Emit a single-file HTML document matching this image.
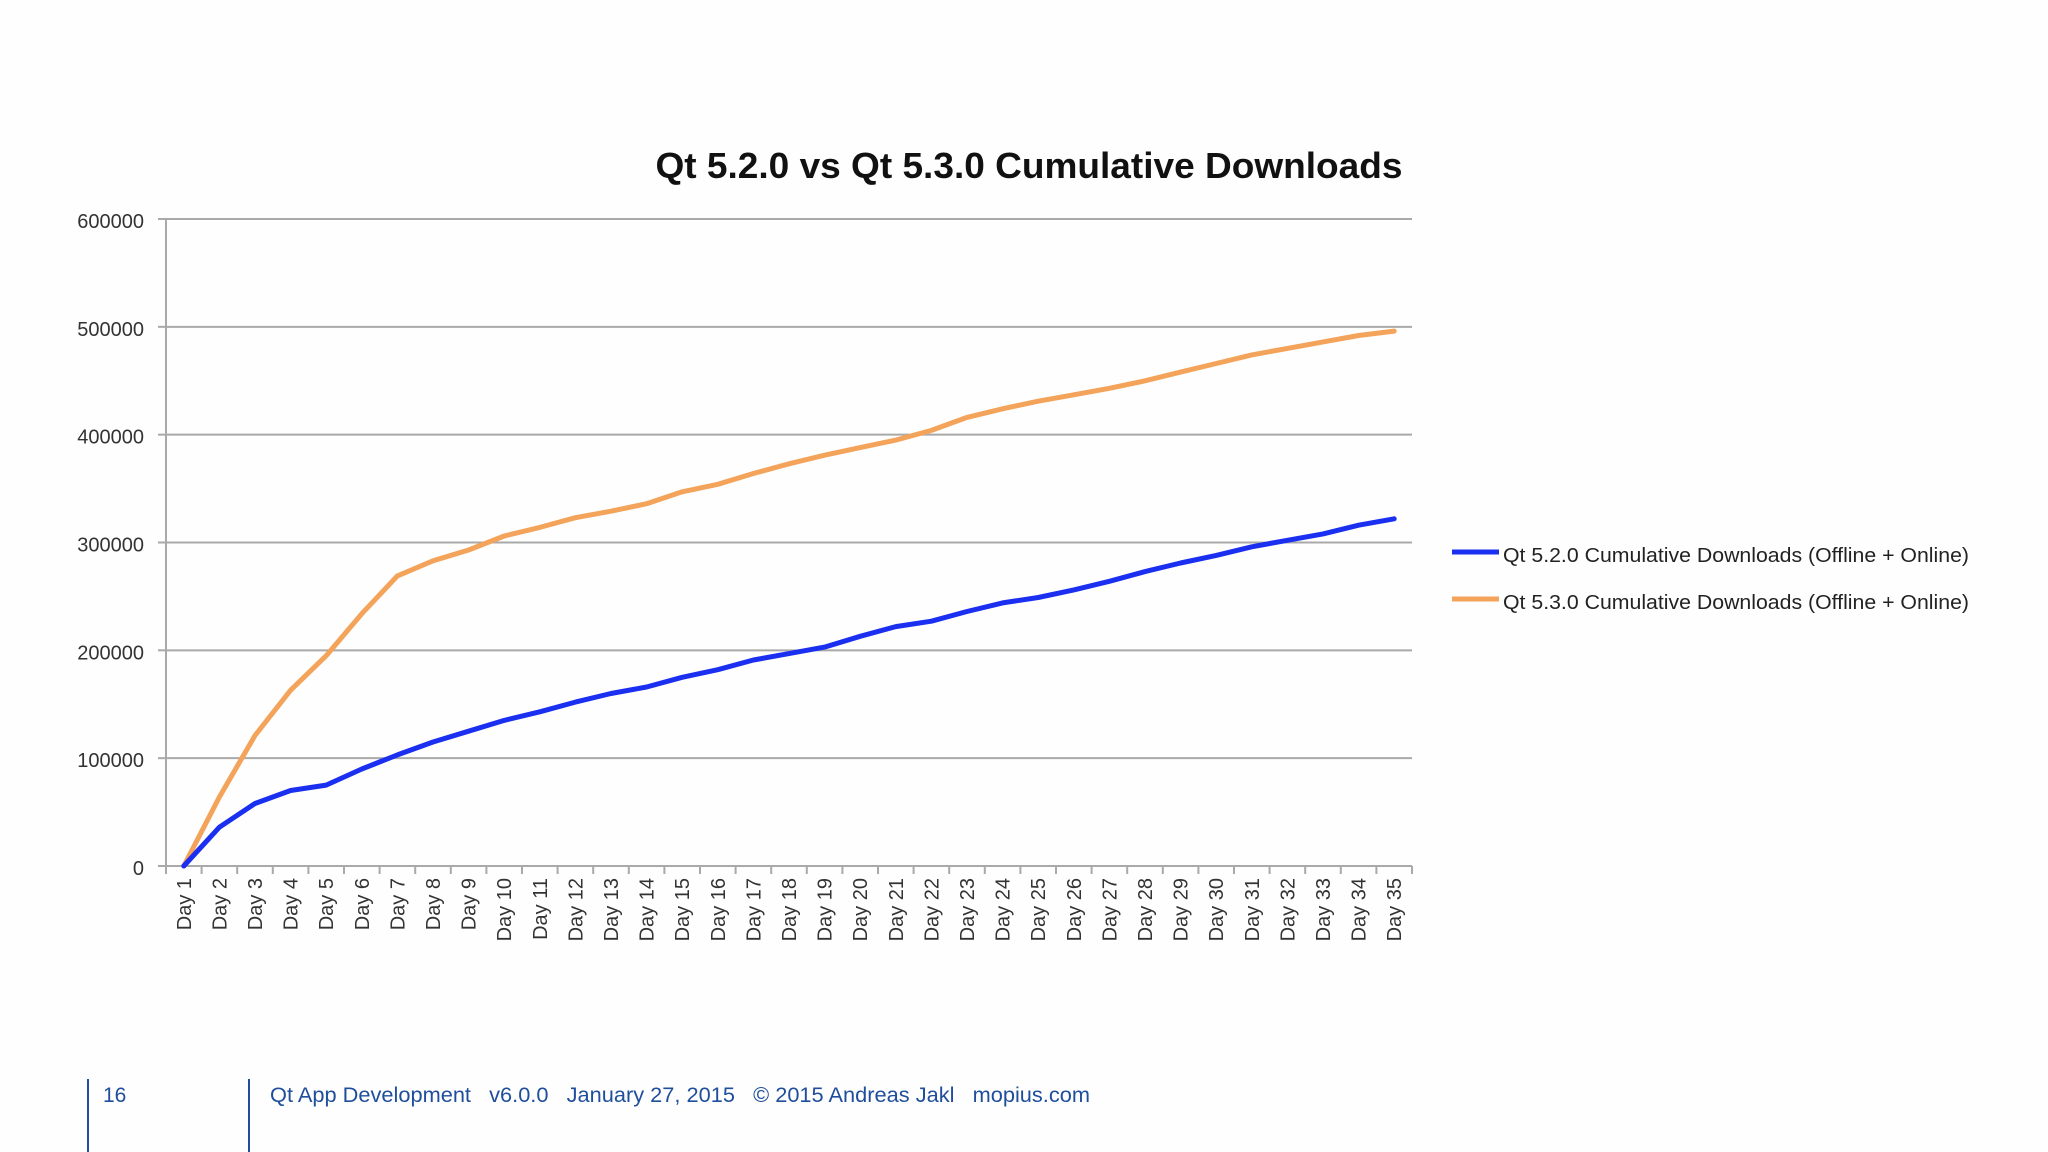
<!DOCTYPE html>
<html><head><meta charset="utf-8"><style>
html,body{margin:0;padding:0;background:#fefefe;}
svg{display:block;font-family:"Liberation Sans",sans-serif;}
.pre{white-space:pre;}
</style></head><body>
<svg id="chart" width="2048" height="1152">
<rect width="2048" height="1152" fill="#fefefe"/>
<text x="1029" y="178" text-anchor="middle" font-size="36" font-weight="bold" fill="#111" textLength="747" lengthAdjust="spacingAndGlyphs">Qt 5.2.0 vs Qt 5.3.0 Cumulative Downloads</text>
<g id="grid"></g><g id="axes"></g><g id="series"></g>
<g>
<line x1="1452" y1="552" x2="1499" y2="552" stroke="#1a2ff0" stroke-width="5"/>
<text x="1503" y="562" font-size="20" fill="#222" textLength="466" lengthAdjust="spacingAndGlyphs">Qt 5.2.0 Cumulative Downloads (Offline + Online)</text>
<line x1="1452" y1="599" x2="1499" y2="599" stroke="#f4a35a" stroke-width="5"/>
<text x="1503" y="609" font-size="20" fill="#222" textLength="466" lengthAdjust="spacingAndGlyphs">Qt 5.3.0 Cumulative Downloads (Offline + Online)</text>
</g>
<g>
<line x1="88" y1="1079" x2="88" y2="1152" stroke="#1f4e9c" stroke-width="2"/>
<line x1="249" y1="1079" x2="249" y2="1152" stroke="#1f4e9c" stroke-width="2"/>
<text x="103" y="1102" font-size="21" fill="#1f4e9c">16</text>
<text class="pre" x="270" y="1102" font-size="21" fill="#1f4e9c" textLength="820" lengthAdjust="spacingAndGlyphs">Qt App Development   v6.0.0   January 27, 2015   © 2015 Andreas Jakl   mopius.com</text>
</g>
</svg>
<script>
const categories = Array.from({length:35},(_,i)=>'Day '+(i+1));
const qt520 = [0,36,58,70,75,90,103,115,125,135,143,152,160,166,175,182,191,197,203,213,222,227,236,244,249,256,264,273,281,288,296,302,308,316,322];
const qt530 = [0,64,121,163,195,234,269,283,293,306,314,323,329,336,347,354,364,373,381,388,395,404,416,424,431,437,443,450,458,466,474,480,486,492,496];
const yTicks = [0,100000,200000,300000,400000,500000,600000];
const NS='http://www.w3.org/2000/svg';
const L=166,R=1412,T=219,B=866,YMAX=600000;
const bw=(R-L)/categories.length;
const xs=i=>L+bw*(i+0.5);
const ys=v=>B-(v/YMAX)*(B-T);
function mk(t,a,p){const e=document.createElementNS(NS,t);for(const k in a)e.setAttribute(k,a[k]);p.appendChild(e);return e;}
const grid=document.getElementById('grid'),axes=document.getElementById('axes'),ser=document.getElementById('series');
yTicks.forEach(v=>{
  const y=ys(v);
  if(v>0){const g=mk('line',{x1:L,x2:R,y1:y,y2:y,stroke:'#a9a9a9','stroke-width':2},grid);
  
  }
  const tk=mk('line',{x1:L-8,x2:L,y1:y,y2:y,stroke:'#a9a9a9','stroke-width':2},axes);
  
  
  const t=mk('text',{x:144,y:y+9,'text-anchor':'end','font-size':20,fill:'#333'},axes);
  t.textContent=String(v);
  
  
});
const ya=mk('line',{x1:L,x2:L,y1:T,y2:B,stroke:'#a9a9a9','stroke-width':2},axes);


const xa=mk('line',{x1:L,x2:R,y1:B,y2:B,stroke:'#a9a9a9','stroke-width':2},axes);


for(let i=0;i<=categories.length;i++){
  const x=L+bw*i;
  const tk=mk('line',{x1:x,x2:x,y1:B,y2:B+8,stroke:'#a9a9a9','stroke-width':2},axes);
  
  
}
categories.forEach((c,i)=>{
  const x=xs(i)+7,y=B+12;
  const t=mk('text',{x:x,y:y,'text-anchor':'end','font-size':20,fill:'#333',transform:`rotate(-90 ${x} ${y})`},axes);
  t.textContent=c;
  
  
});
function line(data,color,name){
  const d=data.map((v,i)=>(i?'L':'M')+xs(i).toFixed(1)+' '+ys(v*1000).toFixed(1)).join(' ');
  const p=mk('path',{d:d,fill:'none',stroke:color,'stroke-width':5,'stroke-linejoin':'round','stroke-linecap':'round'},ser);
  
  
}
line(qt530,'#f4a35a','line-qt530');
line(qt520,'#1a2ff0','line-qt520');
</script>
</body></html>
